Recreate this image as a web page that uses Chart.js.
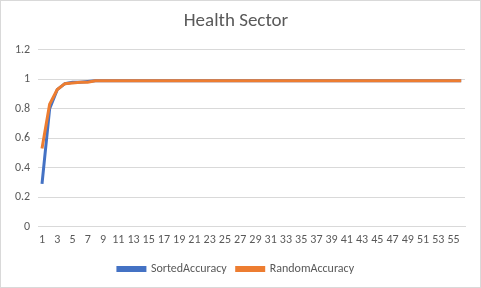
<!DOCTYPE html>
<html>
<head>
<meta charset="utf-8">
<script src="https://cdn.jsdelivr.net/npm/chart.js@4"></script>
<style>
html,body{margin:0;padding:0;background:#fff;}
#wrap{width:479px;height:286px;border:1px solid #d9d9d9;position:relative;}
canvas{display:block;}
</style>
</head>
<body>
<div id="wrap"><canvas id="chart" width="479" height="286"></canvas></div>
<script>
const labels = [];
for (let i = 1; i <= 56; i++) labels.push(String(i));

const sortedAccuracy = [0.29,0.80,0.93,0.97,0.98,0.98,0.985,0.99,0.99,0.99,
  0.99,0.99,0.99,0.99,0.99,0.99,0.99,0.99,0.99,0.99,
  0.99,0.99,0.99,0.99,0.99,0.99,0.99,0.99,0.99,0.99,
  0.99,0.99,0.99,0.99,0.99,0.99,0.99,0.99,0.99,0.99,
  0.99,0.99,0.99,0.99,0.99,0.99,0.99,0.99,0.99,0.99,
  0.99,0.99,0.99,0.99,0.99,0.99];
const randomAccuracy = [0.53,0.83,0.93,0.97,0.975,0.98,0.98,0.99,0.99,0.99,
  0.99,0.99,0.99,0.99,0.99,0.99,0.99,0.99,0.99,0.99,
  0.99,0.99,0.99,0.99,0.99,0.99,0.99,0.99,0.99,0.99,
  0.99,0.99,0.99,0.99,0.99,0.99,0.99,0.99,0.99,0.99,
  0.99,0.99,0.99,0.99,0.99,0.99,0.99,0.99,0.99,0.99,
  0.99,0.99,0.99,0.99,0.99,0.99];

const font = "Calibri, Carlito, 'Liberation Sans', sans-serif";
Chart.defaults.font.family = font;
Chart.defaults.color = '#595959';

new Chart(document.getElementById('chart'), {
  type: 'line',
  data: {
    labels: labels,
    datasets: [
      {label:'SortedAccuracy', data:sortedAccuracy, borderColor:'#4472c4', backgroundColor:'#4472c4', borderWidth:3, pointRadius:0, tension:0, order:1},
      {label:'RandomAccuracy', data:randomAccuracy, borderColor:'#ed7d31', backgroundColor:'#ed7d31', borderWidth:3, pointRadius:0, tension:0, order:0}
    ]
  },
  options: {
    responsive:false,
    animation:false,
    layout:{padding:{left:6,right:15,top:0,bottom:2}},
    plugins:{
      title:{display:true, text:'Health Sector', color:'#595959', font:{size:19, weight:'normal'}, padding:{top:9,bottom:17}},
      legend:{position:'bottom', labels:{boxWidth:27, boxHeight:3, font:{size:12}, padding:10,
        sort:function(a,b){ return a.datasetIndex - b.datasetIndex; }}},
      tooltip:{enabled:false}
    },
    scales:{
      x:{
        offset:true,
        grid:{display:false, drawTicks:false},
        border:{color:'#d9d9d9'},
        ticks:{autoSkip:false, maxRotation:0, padding:6, font:{size:12},
          callback:function(v,i){ return i % 2 === 0 ? labels[i] : ''; }}
      },
      y:{
        min:0, max:1.2,
        grid:{color:'#d9d9d9', drawTicks:false},
        border:{display:false},
        ticks:{stepSize:0.2, padding:8, font:{size:12},
          callback:function(v){ return Math.round(v*10)/10; }}
      }
    }
  }
});
</script>
</body>
</html>
